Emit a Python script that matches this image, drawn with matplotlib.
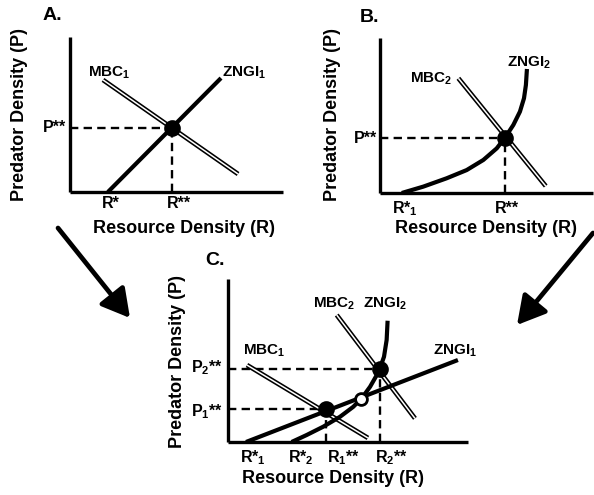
import matplotlib
matplotlib.use("Agg")
import matplotlib.pyplot as plt
from matplotlib.patches import FancyArrowPatch, ArrowStyle

plt.rcParams['font.family'] = ['Liberation Sans', 'DejaVu Sans']
plt.rcParams['font.weight'] = 'bold'
plt.rcParams['mathtext.fontset'] = 'custom'
plt.rcParams['mathtext.rm'] = 'Liberation Sans:bold'
plt.rcParams['mathtext.it'] = 'Liberation Sans:bold'
plt.rcParams['mathtext.bf'] = 'Liberation Sans:bold'
plt.rcParams['lines.scale_dashes'] = False

# ---------------- data (R, P in arbitrary 0-10 units per panel) ----------------
# Panel A
zngi1_A_R = [1.78, 7.09]
zngi1_A_P = [0.0, 7.35]
mbc1_A_R = [1.55, 7.89]
mbc1_A_P = [7.23, 1.16]
eq_A = (4.79, 4.13)

# Panel B
zngi2_B_R = [1.02, 2.03, 3.13, 4.07, 4.85, 5.48, 5.87, 6.26, 6.57, 6.76, 6.85, 6.89, 6.90]
zngi2_B_P = [0.0, 0.41, 0.95, 1.48, 2.13, 2.88, 3.57, 4.39, 5.25, 6.11, 6.97, 7.83, 8.0]
mbc2_B_R = [3.68, 7.78]
mbc2_B_P = [7.40, 0.45]
eq_B = (5.87, 3.57)

# Panel C
zngi1_C_R = [0.75, 9.58]
zngi1_C_P = [0.0, 5.03]
mbc1_C_R = [0.79, 5.83]
mbc1_C_P = [4.72, 0.25]
zngi2_C_R = [2.65, 3.28, 3.97, 4.67, 5.22, 5.57, 5.92, 6.20, 6.33, 6.50, 6.61, 6.65]
zngi2_C_P = [0.0, 0.43, 0.94, 1.55, 2.16, 2.68, 3.39, 4.11, 4.52, 5.23, 6.26, 7.44]
mbc2_C_R = [4.53, 7.79]
mbc2_C_P = [7.79, 1.45]
eq1_C = (4.08, 2.00)
eq2_C = (6.33, 4.48)
open_C = (5.54, 2.64)

W, H = 594, 495
fig = plt.figure(figsize=(W / 100, H / 100), dpi=100)


def add_ax(l, t, r, b):
    ax = fig.add_axes([l / W, 1 - b / H, (r - l) / W, (b - t) / H])
    ax.set_xlim(0, 10)
    ax.set_ylim(0, 10)
    for s in ['top', 'right']:
        ax.spines[s].set_visible(False)
    for s in ['left', 'bottom']:
        ax.spines[s].set_linewidth(2.4)
        ax.spines[s].set_capstyle('butt')
    ax.set_xticks([])
    ax.set_yticks([])
    ax.patch.set_alpha(0)
    return ax


def zngi(ax, R, P):
    ax.plot(R, P, color='black', lw=3.0, solid_capstyle='butt', solid_joinstyle='round',
            zorder=4, clip_on=False)


def mbc(ax, R, P):
    ax.plot(R, P, color='black', lw=3.4, solid_capstyle='butt', zorder=3, clip_on=False)
    ax.plot(R, P, color='white', lw=1.1, solid_capstyle='butt', zorder=3.1, clip_on=False)


def dashed(ax, R, P):
    ax.plot([0, R], [P, P], color='black', lw=1.7, dashes=(6, 3.8), zorder=2, clip_on=False)
    ax.plot([R, R], [0, P], color='black', lw=1.7, dashes=(6, 3.8), zorder=2, clip_on=False)


def dot(ax, pt, filled=True, ms=10):
    ax.plot([pt[0]], [pt[1]], 'o', ms=ms, mfc='black' if filled else 'white',
            mec='black', mew=2.0, zorder=6, clip_on=False)


def ftext(x, y, s, size=11, ha='left', va='baseline', **kw):
    fig.text(x / W, 1 - y / H, s, fontsize=size, ha=ha, va=va, fontweight='bold', **kw)


TK = 11.5

# ---------------- Panel A ----------------
axA = add_ax(70, 37, 283, 192)
dashed(axA, *eq_A)
mbc(axA, mbc1_A_R, mbc1_A_P)
zngi(axA, zngi1_A_R, zngi1_A_P)
dot(axA, eq_A)

ftext(43, 20, 'A.', size=14)
ftext(20, 115, 'Predator Density (P)', size=13, ha='center', va='center', rotation=90)
ftext(184, 233, 'Resource Density (R)', size=13, ha='center')
ftext(88, 77, 'MBC$_1$', size=11)
ftext(222, 77, 'ZNGI$_1$', size=11)
ftext(66, 132, 'P**', size=TK, ha='right')
ftext(102, 208, 'R*', size=TK)
ftext(167, 208, 'R**', size=TK)

# ---------------- Panel B ----------------
axB = add_ax(380, 38, 593, 193)
dashed(axB, *eq_B)
mbc(axB, mbc2_B_R, mbc2_B_P)
zngi(axB, zngi2_B_R, zngi2_B_P)
dot(axB, eq_B)

ftext(360, 22, 'B.', size=14)
ftext(333, 115, 'Predator Density (P)', size=13, ha='center', va='center', rotation=90)
ftext(486, 233, 'Resource Density (R)', size=13, ha='center')
ftext(410, 83, 'MBC$_2$', size=11)
ftext(507, 67, 'ZNGI$_2$', size=11)
ftext(377, 143, 'P**', size=TK, ha='right')
ftext(392, 213, 'R*$_1$', size=TK)
ftext(495, 213, 'R**', size=TK)

# ---------------- Panel C ----------------
axC = add_ax(228, 279, 468, 442)
dashed(axC, *eq1_C)
dashed(axC, *eq2_C)
mbc(axC, mbc1_C_R, mbc1_C_P)
mbc(axC, mbc2_C_R, mbc2_C_P)
zngi(axC, zngi1_C_R, zngi1_C_P)
zngi(axC, zngi2_C_R, zngi2_C_P)
dot(axC, eq1_C)
dot(axC, eq2_C)
dot(axC, open_C, filled=False, ms=8.5)

ftext(205, 265, 'C.', size=14)
ftext(178, 362, 'Predator Density (P)', size=13, ha='center', va='center', rotation=90)
ftext(333, 483, 'Resource Density (R)', size=13, ha='center')
ftext(313, 308, 'MBC$_2$', size=11)
ftext(363, 308, 'ZNGI$_2$', size=11)
ftext(243, 355, 'MBC$_1$', size=11)
ftext(433, 355, 'ZNGI$_1$', size=11)
ftext(223, 372, 'P$_2$**', size=TK, ha='right')
ftext(223, 416, 'P$_1$**', size=TK, ha='right')
ftext(240, 462, 'R*$_1$', size=TK)
ftext(288, 462, 'R*$_2$', size=TK)
ftext(327, 462, 'R$_1$**', size=TK)
ftext(375, 462, 'R$_2$**', size=TK)

# ---------------- Arrows ----------------
for (x0, y0, x1, y1) in [(58, 228, 130, 318), (593, 233, 517, 325)]:
    arr = FancyArrowPatch((x0 / W, 1 - y0 / H), (x1 / W, 1 - y1 / H),
                          transform=fig.transFigure,
                          arrowstyle=ArrowStyle('-|>', head_length=17, head_width=9.5),
                          mutation_scale=1, lw=3.4, color='black',
                          shrinkA=0, shrinkB=0)
    fig.patches.append(arr)

fig.savefig('out.png', dpi=100)
